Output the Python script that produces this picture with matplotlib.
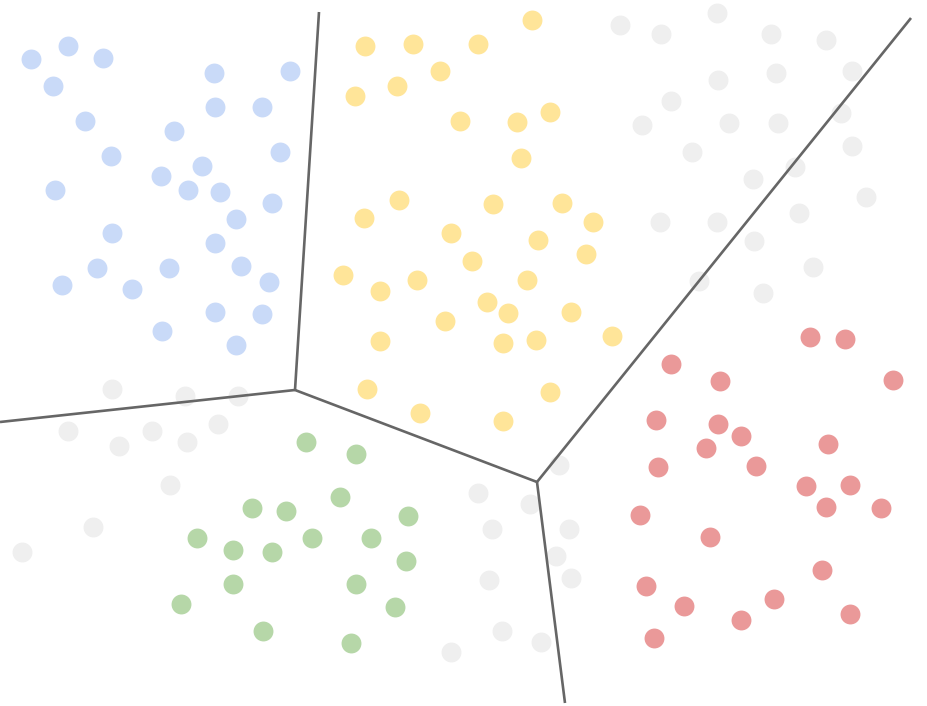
import matplotlib
matplotlib.use("Agg")
import matplotlib.pyplot as plt

# point positions (pixel space, y down)
blue_x = [31, 68, 103, 53, 214, 290, 85, 215, 262, 174, 111, 280, 202, 161, 55, 188, 220, 236, 272, 112, 215, 97, 169, 241, 62, 132, 269, 215, 262, 162, 236]
blue_y = [59, 46, 58, 86, 73, 71, 121, 107, 107, 131, 156, 152, 166, 176, 190, 190, 192, 219, 203, 233, 243, 268, 268, 266, 285, 289, 282, 312, 314, 331, 345]

yellow_x = [532, 365, 413, 478, 440, 397, 355, 460, 517, 550, 521, 399, 364, 493, 562, 593, 451, 538, 586, 472, 343, 380, 417, 527, 487, 508, 571, 445, 380, 503, 536, 612, 367, 420, 550, 503]
yellow_y = [20, 46, 44, 44, 71, 86, 96, 121, 122, 112, 158, 200, 218, 204, 203, 222, 233, 240, 254, 261, 275, 291, 280, 280, 302, 313, 312, 321, 341, 343, 340, 336, 389, 413, 392, 421]

grey_x = [620, 661, 717, 771, 826, 718, 776, 852, 671, 642, 729, 778, 841, 692, 852, 753, 795, 866, 660, 717, 799, 754, 699, 763, 813,
          112, 185, 238, 68, 119, 152, 187, 218, 170, 93, 22,
          559, 478, 530, 492, 569, 556, 571, 489, 502, 541, 451]
grey_y = [25, 34, 13, 34, 40, 80, 73, 71, 101, 125, 123, 123, 113, 152, 146, 179, 167, 197, 222, 222, 213, 241, 281, 293, 267,
          389, 396, 396, 431, 446, 431, 442, 424, 485, 527, 552,
          465, 493, 504, 529, 529, 556, 578, 580, 631, 642, 652]

red_x = [810, 845, 893, 671, 720, 656, 718, 741, 706, 828, 658, 756, 806, 850, 826, 881, 640, 710, 822, 646, 684, 774, 741, 850, 654]
red_y = [337, 339, 380, 364, 381, 420, 424, 436, 448, 444, 467, 466, 486, 485, 507, 508, 515, 537, 570, 586, 606, 599, 620, 614, 638]

green_x = [306, 356, 340, 252, 286, 408, 197, 233, 272, 312, 371, 406, 233, 356, 181, 395, 263, 351]
green_y = [442, 454, 497, 508, 511, 516, 538, 550, 552, 538, 538, 561, 584, 584, 604, 607, 631, 643]

# boundary segments
seg_x = [[319, 295], [0, 295], [295, 537], [537, 911], [537, 565]]
seg_y = [[12, 390], [422, 390], [390, 482], [482, 18], [482, 703]]

fig = plt.figure(figsize=(9.27, 7.06), dpi=100)
ax = fig.add_axes([0, 0, 1, 1])
ax.set_xlim(0, 927)
ax.set_ylim(706, 0)
ax.axis("off")

size = 205
ax.scatter(grey_x, grey_y, s=size, color="#efefef", linewidths=0, zorder=1)
ax.scatter(blue_x, blue_y, s=size, color="#c9daf8", linewidths=0, zorder=1)
ax.scatter(yellow_x, yellow_y, s=size, color="#ffe599", linewidths=0, zorder=1)
ax.scatter(red_x, red_y, s=size, color="#ea9999", linewidths=0, zorder=1)
ax.scatter(green_x, green_y, s=size, color="#b6d7a8", linewidths=0, zorder=1)

for xs, ys in zip(seg_x, seg_y):
    ax.plot(xs, ys, color="#666666", lw=1.9, solid_capstyle="butt", zorder=2)

fig.savefig("out.png", dpi=100)
